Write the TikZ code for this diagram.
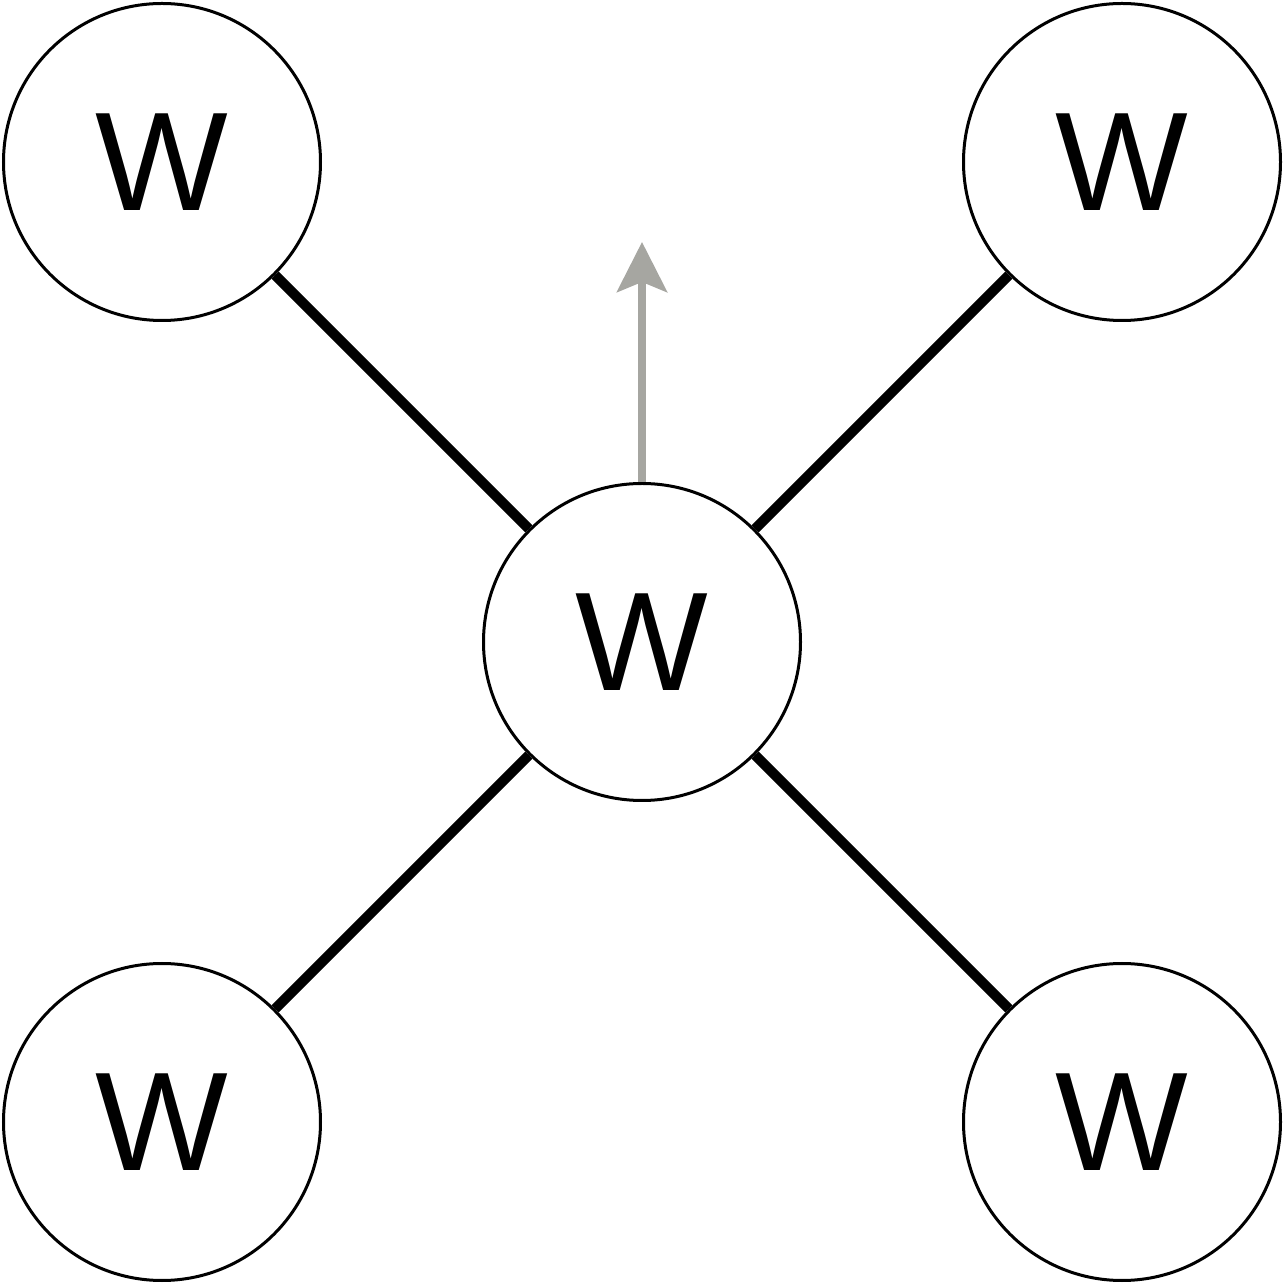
\documentclass[tikz,border=0pt]{standalone}
\usepackage{fontspec}
\setmainfont{Liberation Sans}
\usetikzlibrary{arrows.meta}
\definecolor{arrowgray}{RGB}{166,166,161}
\begin{document}
\begin{tikzpicture}[every node/.style={font=\fontsize{40}{48}\selectfont},
  wnode/.style={draw,circle,line width=0.03cm,minimum size=3.17cm,inner sep=0pt},
  bond/.style={line width=0.1cm}]
\useasboundingbox (0,0) rectangle (12.84,12.84);
% centre and corners
\node[wnode] (mid) at (6.42,6.42) {W};
\foreach \n/\x/\y in {tl/1.62/11.22,tr/11.22/11.22,bl/1.62/1.62,br/11.22/1.62} {
  \node[wnode] (\n) at (\x,\y) {W};
  \draw[bond] (mid) -- (\n);
}
% up arrow
\coordinate (up) at (6.42,10.42);
\draw[arrowgray,line width=0.08cm,-{Stealth[length=0.5cm,width=0.5cm,inset=0.1cm]}] (mid.north) -- (up);
\end{tikzpicture}
\end{document}
